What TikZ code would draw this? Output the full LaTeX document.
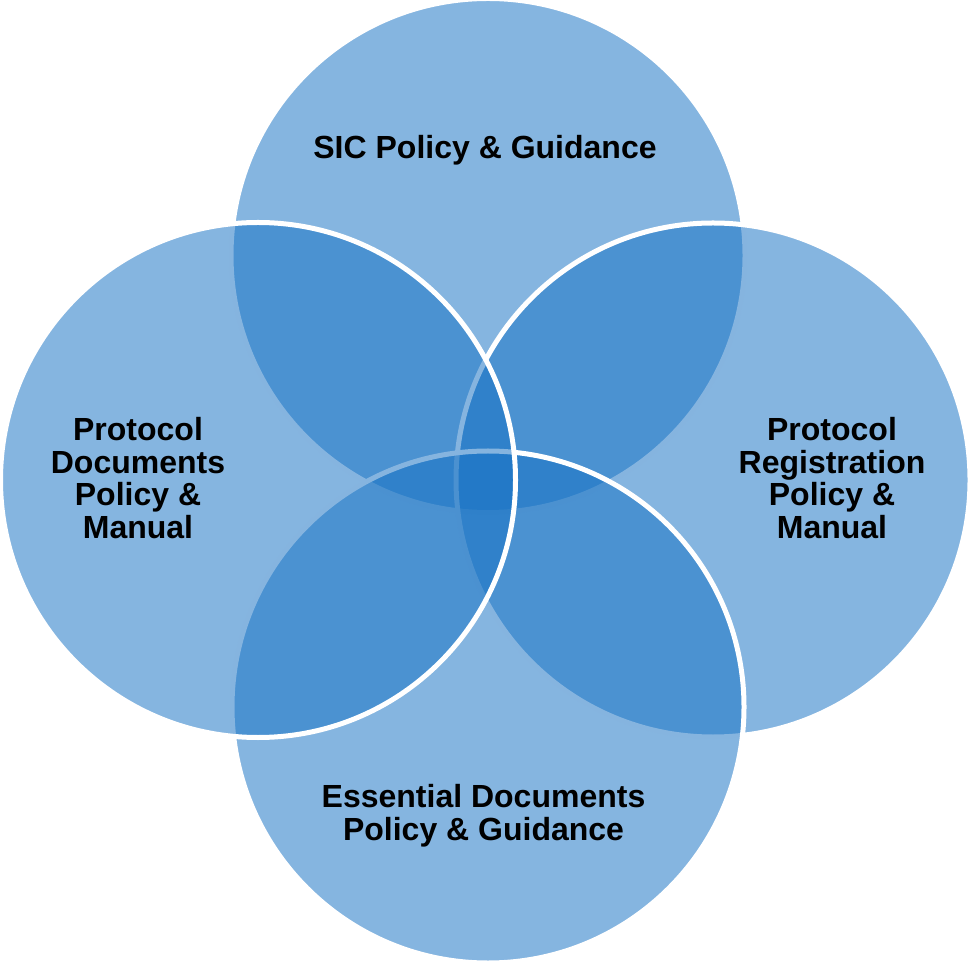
\documentclass[tikz,border=0pt]{standalone}
\usepackage{fontspec}
\setmainfont{Liberation Sans}
\usepackage{xcolor}
\definecolor{vnBlue}{RGB}{23,114,196}
\definecolor{vnInk}{RGB}{0,0,0}
\tikzset{
  vnring/.style={fill=vnBlue,fill opacity=0.525,draw=white,line width=2.5pt},
  vnlabel/.style={align=center,inner sep=0pt,text=vnInk,
    font=\fontsize{16}{16.3}\selectfont\bfseries}
}

\begin{document}
\begin{tikzpicture}[x=0.5pt,y=-0.5pt]
  \useasboundingbox (0,0) rectangle (968,961);
  \coordinate (T) at (488,255.5);
  \coordinate (R) at (713,480);
  \coordinate (B) at (488,707);
  \coordinate (L) at (258,480);
  \draw[vnring] (T) circle[radius=257];
  \draw[vnring] (R) circle[radius=257];
  \draw[vnring] (B) circle[radius=256];
  \draw[vnring] (L) circle[radius=257.5];
  \node[vnlabel] (sic) at (485,150) {SIC Policy \& Guidance};
  \node[vnlabel] (pdoc) at (138,478) {Protocol\\Documents\\Policy \&\\Manual};
  \node[vnlabel] (preg) at (832,478) {Protocol\\Registration\\Policy \&\\Manual};
  \node[vnlabel] (edoc) at (483.5,815.5) {Essential Documents\\Policy \& Guidance};
\end{tikzpicture}
\end{document}
